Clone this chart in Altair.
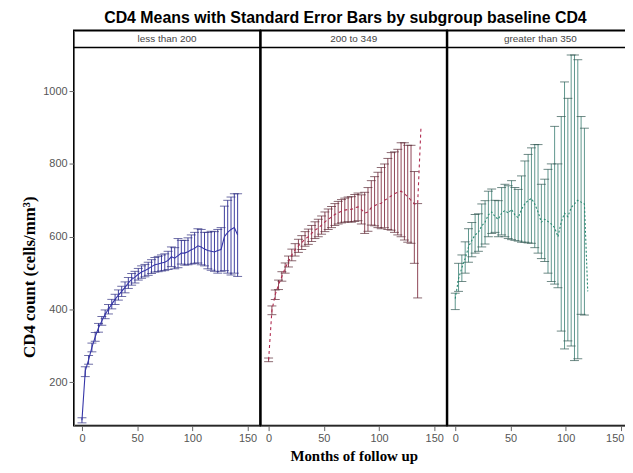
import altair as alt
import pandas as pd

# ---- data ----
t1 = [0, 3, 6, 9, 12, 15, 18, 21, 24, 27, 30, 33, 36, 39, 42, 45, 48, 51, 54, 57,
      60, 63, 66, 69, 72, 75, 78, 81, 84, 87, 90, 93, 96, 99, 102, 105, 108, 111,
      114, 117, 120, 123, 126, 129, 132, 135, 138, 141]
mean1 = [96, 232, 262, 296, 325, 350, 369, 387, 401, 415, 428, 440, 450, 461, 473, 483,
         489, 497, 503, 507, 512, 518, 523, 525, 528, 530, 535, 545, 541, 548, 555, 555,
         559, 564, 568, 575, 572, 566, 562, 560, 558, 562, 565, 600, 612, 620, 625, 605]
lo1 = [89, 216, 250, 284, 313, 338, 357, 375, 388, 402, 414, 426, 436, 446, 458, 467,
       473, 481, 486, 490, 494, 499, 503, 504, 506, 507, 510, 518, 512, 515, 525, 522,
       523, 525, 527, 528, 523, 520, 512, 508, 505, 500, 505, 507, 500, 495, 500, 491]
hi1 = [103, 243, 274, 308, 337, 362, 381, 399, 414, 428, 442, 454, 464, 476, 488, 499,
       505, 513, 520, 524, 530, 537, 543, 546, 550, 553, 560, 572, 570, 595, 590, 590,
       597, 605, 612, 622, 620, 612, 612, 615, 614, 620, 625, 684, 700, 709, 718, 718]

t2 = [0, 3, 6, 9, 12, 15, 18, 21, 24, 27, 30, 33, 36, 39, 42, 45, 48, 51, 54, 57,
      60, 63, 66, 69, 72, 75, 78, 81, 84, 87, 90, 93, 96, 99, 102, 105, 108, 111,
      114, 117, 120, 123, 126, 129, 132, 135, 138]
mean2 = [262, 398, 441, 468, 491, 514, 532, 550, 564, 575, 584, 594, 600, 609, 618, 624,
         632, 641, 648, 654, 661, 666, 670, 673, 675, 675, 679, 682, 675, 665, 668, 680,
         685, 690, 692, 700, 705, 712, 718, 722, 725, 718, 710, 700, 690, 690, 900]
lo2 = [257, 386, 428, 455, 478, 500, 517, 534, 547, 557, 565, 574, 579, 587, 595, 600,
       607, 614, 620, 625, 631, 635, 638, 640, 641, 640, 642, 644, 635, 609, 615, 632,
       630, 625, 622, 625, 620, 618, 612, 605, 600, 591, 585, 582, 527, 432, None]
hi2 = [267, 410, 454, 481, 504, 528, 547, 566, 581, 593, 603, 614, 621, 631, 641, 648,
       657, 668, 676, 683, 691, 697, 702, 706, 709, 710, 716, 720, 715, 722, 735, 754,
       765, 777, 790, 800, 815, 831, 833, 840, 858, 858, 851, 851, 779, 691, None]

t3 = [0, 3, 6, 9, 12, 15, 18, 21, 24, 27, 30, 33, 36, 39, 42, 45, 48, 51, 54, 57,
      60, 63, 66, 69, 72, 75, 78, 81, 84, 87, 90, 93, 96, 99, 102, 105, 108, 111,
      114, 117, 120]
mean3 = [430, 485, 515, 540, 572, 590, 605, 612, 630, 640, 660, 668, 655, 648, 665, 672,
         665, 675, 660, 652, 675, 690, 700, 705, 690, 668, 640, 648, 642, 635, 625, 600,
         640, 665, 655, 680, 690, 700, 695, 690, 450]
lo3 = [400, 450, 477, 500, 530, 545, 555, 560, 572, 580, 600, 609, 612, 600, 605, 600,
       595, 592, 590, 588, 585, 585, 583, 582, 570, 555, 540, 532, 500, 477, 470, 460,
       341, 292, 314, 300, 260, 265, 387, 385, None]
hi3 = [445, 527, 550, 586, 622, 639, 661, 663, 690, 699, 725, 731, 700, 699, 735, 744,
       740, 754, 735, 730, 767, 808, 826, 844, 853, 853, 744, 758, 785, 800, 903, 800,
       930, 1025, 980, 1099, 1099, 1086, 930, 898, None]

labels = ["less than 200", "200 to 349", "greater than 350"]
x_ticks = [0, 50, 100, 150]
y_ticks = [200, 400, 600, 800, 1000]

W = 187.5
H = 398
HEAD = 17
XDOM = [-7.2, 161.4]
YDOM = [81.4, 1166.2]


def panel(t, mean, lo, hi, label, bar_color, cap_color, line_color, dash,
          show_y, show_xtitle, last=False):
    df = pd.DataFrame({"t": t, "mean": mean, "lo": lo, "hi": hi})
    hdf = pd.DataFrame({"label": [label]})
    xs = alt.Scale(domain=XDOM, nice=False, zero=False)
    ys = alt.Scale(domain=YDOM, nice=False, zero=False)
    xkw = dict(values=x_ticks, title="Months of follow up" if show_xtitle else None,
               titlePadding=5, titleFontSize=15)
    if last:
        xkw["labelAlign"] = {"condition": {"test": "datum.value == 150", "value": "right"},
                             "value": "center"}
        xkw["labelOffset"] = {"condition": {"test": "datum.value == 150", "value": 3},
                              "value": 0}
    xaxis = alt.Axis(**xkw)
    if show_y:
        yaxis = alt.Axis(values=y_ticks, format="d", title="CD4 count (cells/mm³)",
                         titlePadding=4, titleFontSize=17, titleY=248)
    else:
        yaxis = None
    base = alt.Chart(df)
    valid = base.transform_filter("isValid(datum.lo)")
    bars = valid.mark_rule(color=bar_color, strokeWidth=1).encode(
        x=alt.X("t:Q", scale=xs, axis=xaxis),
        y=alt.Y("lo:Q", scale=ys, axis=yaxis),
        y2="hi:Q",
    )
    cap_lo = valid.mark_tick(orient="horizontal", size=9, thickness=1,
                             color=cap_color).encode(
        x=alt.X("t:Q", scale=xs), y=alt.Y("lo:Q", scale=ys))
    cap_hi = valid.mark_tick(orient="horizontal", size=9, thickness=1,
                             color=cap_color).encode(
        x=alt.X("t:Q", scale=xs), y=alt.Y("hi:Q", scale=ys))
    line_kw = dict(color=line_color, strokeWidth=1.1)
    if dash:
        line_kw["strokeDash"] = dash
    line = base.mark_line(**line_kw).encode(
        x=alt.X("t:Q", scale=xs), y=alt.Y("mean:Q", scale=ys))
    hrule = alt.Chart(hdf).mark_rule(color="black", strokeWidth=1.5).encode(
        x=alt.value(0), x2=alt.value(W), y=alt.value(HEAD))
    htext = alt.Chart(hdf).mark_text(font="Liberation Sans", fontSize=10,
                                     color="#444444").encode(
        x=alt.value(W / 2), y=alt.value(HEAD / 2 + 0.5), text="label:N")
    return alt.layer(bars, cap_lo, cap_hi, line, hrule, htext).properties(
        width=W, height=H)


p1 = panel(t1, mean1, lo1, hi1, labels[0], "#3d3d9e", "#2f2f80", "#3535a8", None,
           True, False)
p2 = panel(t2, mean2, lo2, hi2, labels[1], "#8e4656", "#5a2a35", "#b02c50", [3, 3],
           False, True)
p3 = panel(t3, mean3, lo3, hi3, labels[2], "#5f968d", "#2f5550", "#2a8c74", [2, 2],
           False, False, last=True)

chart = alt.hconcat(p1, p2, p3, spacing=0, bounds="flush").properties(
    title=alt.TitleParams(
        "CD4 Means with Standard Error Bars by subgroup baseline CD4",
        font="Liberation Sans", fontSize=16, fontWeight="bold", anchor="middle",
        offset=4, dx=18, color="black"),
    padding={"left": 11.5, "top": 0, "right": -11, "bottom": 0},
).configure_view(
    stroke="black", strokeWidth=2
).configure_axis(
    grid=False,
    labelFont="Liberation Sans", labelFontSize=11, labelColor="#555555",
    domainColor="#666666", tickColor="#666666", tickSize=5,
    titleFont="Liberation Serif", titleFontWeight="bold",
    titleColor="black",
)

chart.save("out.html", embed_options={"renderer": "svg", "actions": False})
